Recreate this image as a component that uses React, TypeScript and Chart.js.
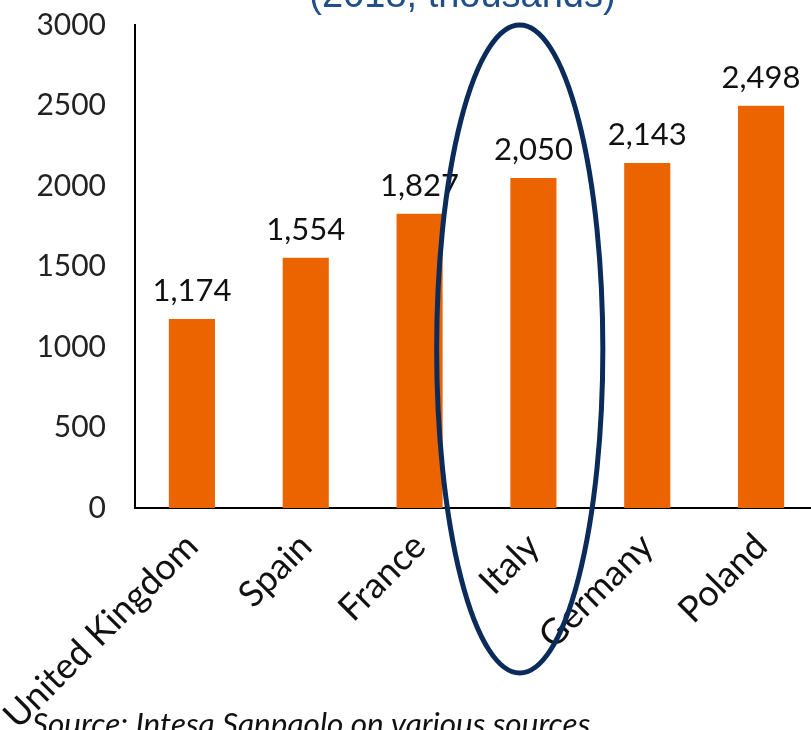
import React, { useEffect, useRef } from "react";
import { Chart, registerables } from "chart.js";

Chart.register(...registerables);

const categories = ["United Kingdom", "Spain", "France", "Italy", "Germany", "Poland"];
const values = [1174, 1554, 1827, 2050, 2143, 2498];
const yTicks = [0, 500, 1000, 1500, 2000, 2500, 3000];
const titleText = "(2018, thousands)";
const sourceText = "Source: Intesa Sanpaolo on various sources";

const FONT = "Lato, 'DejaVu Sans', sans-serif";

const overlayPlugin = {
  id: "overlay",
  afterDatasetsDraw(chart: any) {
    const { ctx } = chart;
    const meta = chart.getDatasetMeta(0);
    ctx.save();
    ctx.fillStyle = "#111111";
    ctx.font = `31px ${FONT}`;
    ctx.textAlign = "center";
    ctx.textBaseline = "alphabetic";
    meta.data.forEach((bar: any, i: number) => {
      ctx.fillText(values[i].toLocaleString("en-US"), bar.x, bar.y - 18);
    });
    ctx.restore();
  },
  afterDraw(chart: any) {
    const { ctx, chartArea, scales } = chart;
    ctx.save();
    // title (partially cut at top)
    ctx.fillStyle = "#1F4E8A";
    ctx.font = `38px 'Liberation Sans', Arial, sans-serif`;
    ctx.textAlign = "center";
    ctx.textBaseline = "alphabetic";
    ctx.fillText(titleText, (chartArea.left + chartArea.right) / 2 - 14, 7);
    // source
    ctx.fillStyle = "#111111";
    ctx.font = `italic 31.5px ${FONT}`;
    ctx.textAlign = "left";
    ctx.fillText(sourceText, 32, 735);
    // highlight ellipse around Italy
    const xs = scales.x;
    const ys = scales.y;
    const cat = (chartArea.right - chartArea.left) / categories.length;
    const cx = xs.getPixelForValue(3) - cat * 0.12;
    const top = ys.getPixelForValue(3000);
    const bottom = 673;
    const cy = (top + bottom) / 2;
    ctx.strokeStyle = "#0B2B5A";
    ctx.lineWidth = 5;
    ctx.beginPath();
    ctx.ellipse(cx, cy, cat * 0.73, (bottom - top) / 2, 0, 0, Math.PI * 2);
    ctx.stroke();
    ctx.restore();
  },
};

export default function App() {
  const ref = useRef<HTMLCanvasElement>(null);
  useEffect(() => {
    if (!ref.current) return;
    const chart = new Chart(ref.current, {
      type: "bar",
      data: {
        labels: categories,
        datasets: [
          {
            data: values,
            backgroundColor: "#EB6400",
            barPercentage: 0.81,
            categoryPercentage: 0.5,
          },
        ],
      },
      options: {
        responsive: false,
        animation: false,
        layout: { padding: { top: 25, right: 2, left: 0, bottom: 0 } },
        plugins: { legend: { display: false }, tooltip: { enabled: false } },
        scales: {
          x: {
            grid: { display: false, drawTicks: false },
            border: { display: true, color: "#000000", width: 2 },
            ticks: {
              color: "#111111",
              font: { family: FONT, size: 36 },
              maxRotation: 45,
              minRotation: 45,
              autoSkip: false,
              padding: 17,
            },
            afterFit(scale: any) {
              scale.height = 730 - 508;
              scale.paddingLeft = 0;
              scale.paddingRight = 0;
              scale.paddingTop = 0;
              scale.paddingBottom = 0;
            },
          },
          y: {
            min: 0,
            max: 3000,
            afterBuildTicks(scale: any) {
              scale.ticks = yTicks.map((v) => ({ value: v }));
            },
            grid: { display: false, drawTicks: false },
            border: { display: true, color: "#000000", width: 2 },
            ticks: {
              color: "#222222",
              font: { family: FONT, size: 30 },
              padding: 29,
              callback: (v: any) => String(v),
            },
            afterFit(scale: any) {
              scale.width = 135;
              scale.paddingTop = 0;
              scale.paddingBottom = 0;
              scale.paddingLeft = 0;
              scale.paddingRight = 0;
            },
          },
        },
      },
      plugins: [overlayPlugin],
    });
    return () => chart.destroy();
  }, []);
  return (
    <div
      style={{
        position: "absolute",
        left: 0,
        top: 0,
        width: 811,
        height: 730,
        overflow: "hidden",
        background: "#ffffff",
      }}
    >
      <canvas ref={ref} width={820} height={730} style={{ display: "block" }} />
    </div>
  );
}
